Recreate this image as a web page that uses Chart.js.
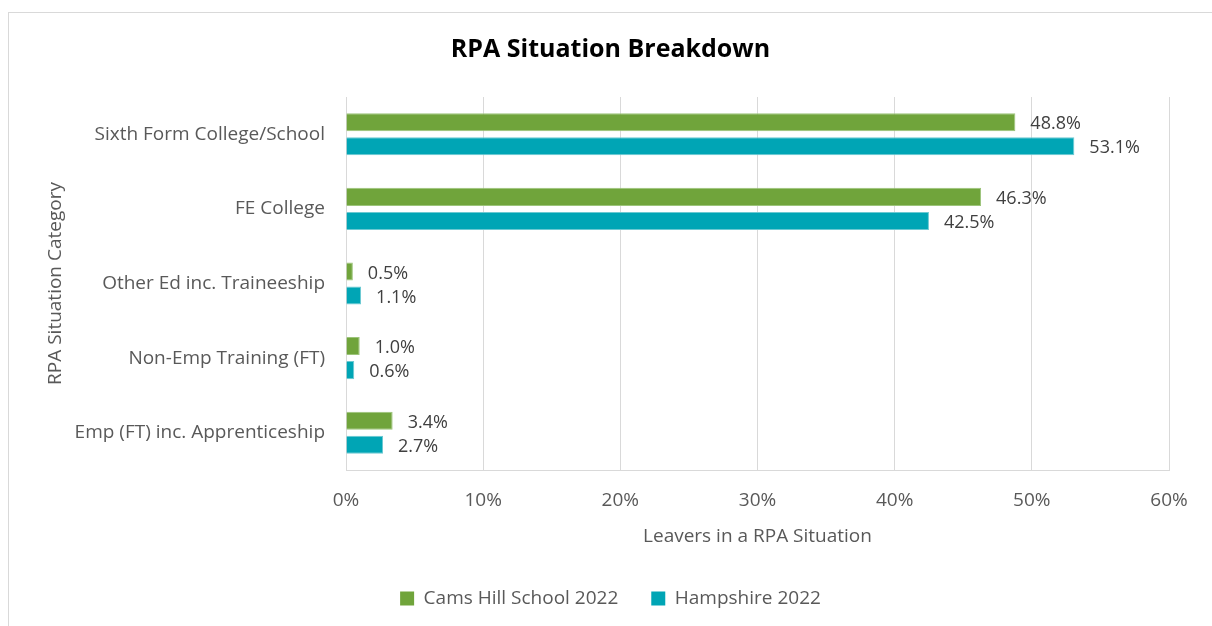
<!DOCTYPE html>
<html>
<head>
<meta charset="utf-8">
<title>RPA Situation Breakdown</title>
<script src="https://cdn.jsdelivr.net/npm/chart.js@4.4.0/dist/chart.umd.min.js"></script>
<style>
  html, body { margin: 0; padding: 0; background: #fff; overflow: hidden; }
  .chart-frame {
    position: absolute; left: 8px; top: 12px;
    width: 1210px; height: 640px;
    border: 1px solid #d9d9d9;
  }
  canvas { display: block; }
</style>
</head>
<body>
<div class="chart-frame">
  <canvas id="rpa-chart" width="1203" height="605"></canvas>
</div>
<script>
// --- data ---
const categories = [
  'Sixth Form College/School',
  'FE College',
  'Other Ed inc. Traineeship',
  'Non-Emp Training (FT)',
  'Emp (FT) inc. Apprenticeship'
];
const camsHill2022 = [48.8, 46.3, 0.5, 1.0, 3.4];
const hampshire2022 = [53.1, 42.5, 1.1, 0.6, 2.7];
const xTicks = [0, 10, 20, 30, 40, 50, 60];

const FONT = '"Open Sans", "Noto Sans", sans-serif';
const GREY_TEXT = '#595959';

// draws the value next to the end of each bar (like Excel data labels)
const barValueLabels = {
  id: 'barValueLabels',
  afterDatasetsDraw(chart) {
    const ctx = chart.ctx;
    ctx.save();
    ctx.font = '18px ' + FONT;
    ctx.fillStyle = '#404040';
    ctx.textAlign = 'left';
    ctx.textBaseline = 'middle';
    chart.data.datasets.forEach((ds, i) => {
      chart.getDatasetMeta(i).data.forEach((bar, j) => {
        ctx.fillText(ds.data[j].toFixed(1) + '%', bar.x + 15, bar.y + 2);
      });
    });
    ctx.restore();
  }
};

new Chart(document.getElementById('rpa-chart'), {
  type: 'bar',
  data: {
    labels: categories,
    datasets: [
      {
        label: 'Cams Hill School 2022',
        data: camsHill2022,
        backgroundColor: '#70A43B',
        borderColor: '#9cc47a',
        borderWidth: 1,
        categoryPercentage: 0.645,
        barPercentage: 0.75
      },
      {
        label: 'Hampshire 2022',
        data: hampshire2022,
        backgroundColor: '#00A5B5',
        borderColor: '#6cc9d2',
        borderWidth: 1,
        categoryPercentage: 0.645,
        barPercentage: 0.75
      }
    ]
  },
  options: {
    indexAxis: 'y',
    responsive: false,
    animation: false,
    devicePixelRatio: 1,
    layout: { padding: 0 },
    plugins: {
      title: {
        display: true,
        text: 'RPA Situation Breakdown',
        color: '#000',
        font: { family: FONT, size: 25, weight: 'bold' },
        padding: { top: 22, bottom: 32 }
      },
      legend: {
        position: 'bottom',
        labels: {
          color: GREY_TEXT,
          font: { family: FONT, size: 19 },
          boxWidth: 14,
          boxHeight: 14,
          padding: 33,
          generateLabels: chart => chart.data.datasets.map((ds, i) => ({
            text: ds.label,
            fillStyle: ds.backgroundColor,
            strokeStyle: ds.backgroundColor,
            lineWidth: 0,
            fontColor: GREY_TEXT,
            datasetIndex: i
          }))
        }
      },
      tooltip: { enabled: false }
    },
    scales: {
      x: {
        min: 0,
        max: 60,
        afterBuildTicks: scale => { scale.ticks = xTicks.map(v => ({ value: v })); },
        afterFit: scale => { scale.height = 86; scale.paddingRight = 43; },
        grid: { color: '#d9d9d9', lineWidth: 1, drawTicks: false },
        border: { color: '#d9d9d9', width: 1 },
        ticks: {
          color: GREY_TEXT,
          font: { family: FONT, size: 19 },
          padding: 19,
          callback: v => v + '%'
        },
        title: {
          display: true,
          text: 'Leavers in a RPA Situation',
          color: GREY_TEXT,
          font: { family: FONT, size: 19 },
          padding: { top: 12, bottom: 8 }
        }
      },
      y: {
        afterFit: scale => { scale.width = 337; },
        grid: { display: false, drawTicks: false },
        border: { color: '#d9d9d9', width: 1 },
        ticks: {
          color: GREY_TEXT,
          font: { family: FONT, size: 19 },
          padding: 21
        },
        title: {
          display: true,
          text: 'RPA Situation Category',
          color: GREY_TEXT,
          font: { family: FONT, size: 19 },
          padding: { top: 35, bottom: 0 }
        }
      }
    }
  },
  plugins: [barValueLabels]
});
</script>
</body>
</html>
